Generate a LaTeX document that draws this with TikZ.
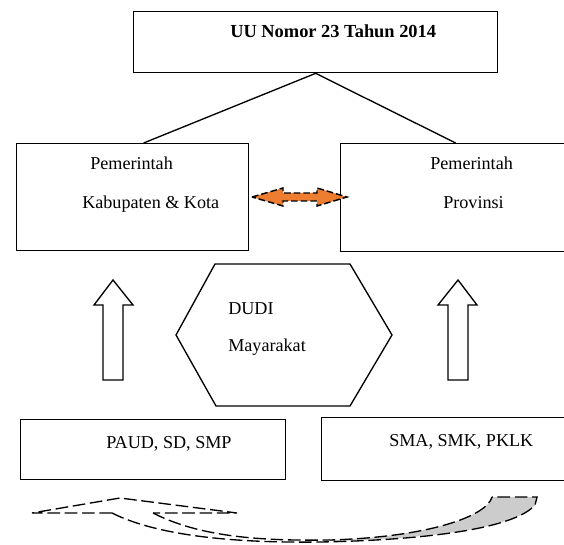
\documentclass[tikz,border=0pt]{standalone}
\usepackage{fontspec}
\setmainfont{Liberation Serif}
\definecolor{arroworange}{HTML}{ED7D31}
\begin{document}
\begin{tikzpicture}[x=0.75pt,y=-0.75pt,line join=miter,
  box/.style={draw,line width=1pt,inner sep=0pt,anchor=north west},
  txt/.style={inner sep=0pt,anchor=base west,font=\fontsize{13.6}{16}\selectfont},
  btxt/.style={inner sep=0pt,anchor=base west,font=\fontsize{13.8}{16}\selectfont\bfseries},
  link/.style={draw,line width=1pt},
  outline/.style={draw,line width=1pt},
  dsh/.style={draw,line width=1pt,dash pattern=on 9.5pt off 3.5pt},
  ddsh/.style={draw,line width=1.1pt,dash pattern=on 5pt off 2.2pt}]
\useasboundingbox (0,0) rectangle (564,545);
\clip (0,0) rectangle (564,545);

% boxes
\node[box,minimum width=273pt,minimum height=45.75pt] (top) at (133,11) {};
\node[box,minimum width=174pt,minimum height=80.25pt] (lbox) at (16,143) {};
\node[box,minimum width=180pt,minimum height=81pt] (rbox) at (340,143) {};
\node[box,minimum width=198.75pt,minimum height=45pt] (lbot) at (20,419) {};
\node[box,minimum width=194.25pt,minimum height=47.25pt] (rbot) at (321,417) {};

% texts
\node[btxt] (ttop) at (230,38) {UU Nomor 23 Tahun 2014};
\node[txt] (tl1) at (90,170) {Pemerintah};
\node[txt] (tl2) at (82,209) {Kabupaten \& Kota};
\node[txt] (tr1) at (430,170) {Pemerintah};
\node[txt] (tr2) at (443,209) {Provinsi};
\node[txt] (th1) at (228,315) {DUDI};
\node[txt] (th2) at (228,351) {Mayarakat};
\node[txt] (tb1) at (106,448) {PAUD, SD, SMP};
\node[txt] (tb2) at (389,446) {SMA, SMK, PKLK};

% connectors from the law box
\draw[link] (top.south) -- ([xshift=8.25pt]lbox.north);
\draw[link] (top.south) -- ([xshift=-3.75pt]rbox.north);

% orange double arrow
\path[ddsh,fill=arroworange] (252,197) -- (283,188) -- (283,193) -- (317,193) -- (317,188)
  -- (347,197) -- (317,206) -- (317,201) -- (283,201) -- (283,206) -- cycle;

% hexagon
\draw[outline] (215,264) -- (350,264) -- (392,335) -- (350,406) -- (216,406) -- (176,335) -- cycle;

% up arrows
\draw[outline] (103,380) -- (103,305) -- (94,305) -- (113,280) -- (133,305) -- (123,305) -- (123,380) -- cycle;
\draw[outline] (448,380) -- (448,305) -- (438,305) -- (458,280) -- (477,305) -- (468,305) -- (468,380) -- cycle;

% curved dashed arrow at bottom
\fill[black!20] (330,540) .. controls (430,537) and (487,516) .. (492,497) -- (537,497) -- (535,505)
  .. controls (515,528) and (430,539) .. (330,541) -- cycle;
\draw[dsh] (112,513) -- (32,513) -- (120,498) -- (237,513) -- (153,513);
\draw[dsh] (112,513) .. controls (160,537) and (240,543) .. (320,542)
  .. controls (430,540) and (515,528) .. (535,505) -- (537,497) -- (492,497);
\draw[dsh] (153,513) .. controls (200,537) and (260,541) .. (330,540)
  .. controls (430,537) and (487,516) .. (492,497);
\end{tikzpicture}
\end{document}
